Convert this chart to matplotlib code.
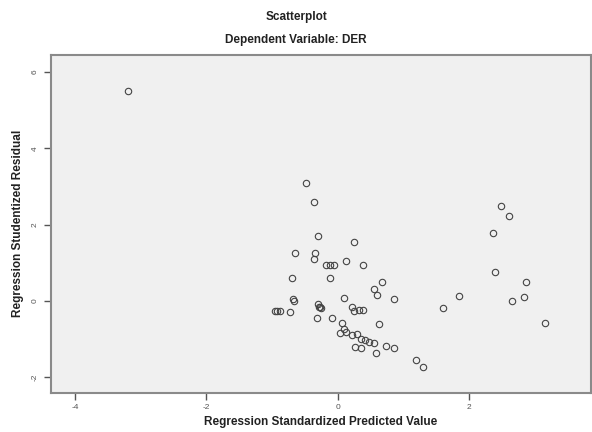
import matplotlib.pyplot as plt

plt.rcParams['font.family'] = ['Liberation Sans', 'DejaVu Sans']
plt.rcParams['axes.unicode_minus'] = False

# standardized predicted value vs studentized residual
pred = [-3.19, -0.48, -0.36, -0.30, 0.25, -0.65, -0.34, -0.36, -0.18, -0.12,
        -0.05, 0.12, 0.38, -0.70, -0.11, 0.68, 0.55, 0.60, 0.86, 0.10,
        -0.68, -0.66, -0.95, -0.92, -0.88, -0.73, -0.30, -0.27, -0.25, -0.28,
        -0.32, -0.09, 0.22, 0.25, 0.32, 0.39, 0.63, 0.06, 0.09, 0.03,
        0.12, 0.22, 0.30, 0.35, 0.41, 0.48, 0.55, 0.27, 0.36, 0.58,
        0.73, 0.85, 1.19, 1.30, 1.61, 1.85, 2.48, 2.61, 2.37, 2.40,
        2.86, 2.83, 2.66, 3.15]
resid = [5.51, 3.09, 2.60, 1.69, 1.54, 1.26, 1.26, 1.10, 0.93, 0.93,
         0.93, 1.05, 0.93, 0.59, 0.61, 0.48, 0.30, 0.15, 0.06, 0.08,
         0.04, 0.00, -0.26, -0.26, -0.26, -0.29, -0.09, -0.15, -0.20, -0.17,
         -0.45, -0.44, -0.17, -0.28, -0.23, -0.24, -0.61, -0.59, -0.75, -0.84,
         -0.81, -0.90, -0.86, -0.99, -1.03, -1.07, -1.10, -1.21, -1.25, -1.38,
         -1.19, -1.25, -1.54, -1.73, -0.20, 0.13, 2.49, 2.22, 1.77, 0.76,
         0.49, 0.11, 0.00, -0.59]

xticks = [-4, -2, 0, 2]
yticks = [-2, 0, 2, 4, 6]

fig = plt.figure(figsize=(5.92, 4.32), dpi=100)
ax = fig.add_axes([0.0856, 0.091, 0.912, 0.782])
ax.set_facecolor('#f0f0f0')

ax.plot(pred, resid, 'o', markersize=4.6, markerfacecolor='none',
        markeredgecolor='#444444', markeredgewidth=0.8)

ax.set_xlim(-4.37, 3.85)
ax.set_ylim(-2.41, 6.45)
ax.set_xticks(xticks)
ax.set_yticks(yticks)
ax.tick_params(axis='both', direction='out', length=5, width=1, color='#555555',
               labelsize=6, labelcolor='#555555')
for lab in ax.get_yticklabels():
    lab.set_rotation(90)
    lab.set_va('center')

for s in ax.spines.values():
    s.set_color('#8a8a8a')
    s.set_linewidth(1.5)

ax.set_xlabel('Regression Standardized Predicted Value', fontsize=8.5,
              fontweight='bold', color='#222222', labelpad=3)
ax.set_ylabel('Regression Studentized Residual', fontsize=8.5,
              fontweight='bold', color='#222222', labelpad=6)

fig.text(0.5, 0.96, 'Scatterplot', ha='center', va='center', fontsize=8.5,
         fontweight='bold', color='#222222')
fig.text(0.5, 0.908, 'Dependent Variable: DER', ha='center', va='center',
         fontsize=8.5, fontweight='bold', color='#222222')

fig.savefig('out.png', dpi=100)
